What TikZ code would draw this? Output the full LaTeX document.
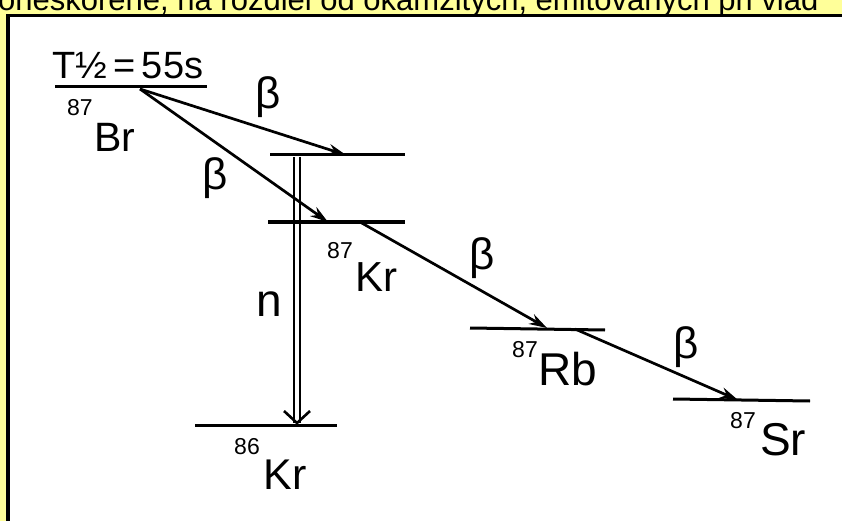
\documentclass[tikz,border=0pt]{standalone}
\usepackage{fontspec}
\setmainfont{Liberation Sans}
\usetikzlibrary{arrows.meta}
\definecolor{bgyellow}{RGB}{255,255,153}
\begin{document}
\begin{tikzpicture}[x=1pt,y=-1pt,
  level/.style={line width=3pt},
  decay/.style={line width=2.7pt,-{Stealth[length=18pt,width=11pt]}},
  elem/.style={inner sep=0pt,font=\fontsize{40}{40}\selectfont},
  massno/.style={inner sep=0pt,font=\fontsize{23}{23}\selectfont},
  greek/.style={inner sep=0pt,font=\fontsize{44}{44}\selectfont}]
\useasboundingbox (0,0) rectangle (842,521);
\fill[bgyellow] (0,0) rectangle (842,521);
\begin{scope}
\clip (0,0) rectangle (842,14);
\node[anchor=base west, inner sep=0pt, font=\fontsize{31}{31}\selectfont] (caption) at (-2,10.5) {oneskorené, na rozdiel od okamžitých, emitovaných pri vlád};
\end{scope}
\fill[white] (8,15.5) rectangle (842,521);
\draw[line width=3.5pt, line join=miter] (8,521) -- (8,15.5) -- (842,15.5);

% levels
\coordinate (BrL) at (55,87);   \coordinate (BrR) at (207,87);
\coordinate (KxL) at (270,155); \coordinate (KxR) at (405,155);
\coordinate (KrL) at (268,222); \coordinate (KrR) at (405,222);
\coordinate (K6L) at (195,425); \coordinate (K6R) at (337,425);
\coordinate (RbL) at (470,328); \coordinate (RbR) at (605,330);
\coordinate (SrL) at (673,399); \coordinate (SrR) at (810,401);
\foreach \a/\b in {BrL/BrR,KxL/KxR,KrL/KrR,K6L/K6R,RbL/RbR,SrL/SrR}
  \draw[level] (\a) -- (\b);

% decay points
\coordinate (src) at (140,89);
\coordinate (kx) at (346,155);
\coordinate (kr) at (328,222);
\coordinate (krs) at (360,222);
\coordinate (rb) at (547,328);
\coordinate (rbs) at (575,329);
\coordinate (sr) at (738,400);
\coordinate (ntop) at (297,157);
\coordinate (nbot) at (297,423);

\draw[decay] (src) -- (kx);
\draw[decay] (src) -- (kr);
\draw[decay] (krs) -- (rb);
\draw[decay] (rbs) -- (sr);

% neutron emission (double arrow)
\draw[line width=2.4pt] ([xshift=-2.8pt]ntop) -- ([xshift=-2.8pt]nbot);
\draw[line width=2.4pt] ([xshift=2.8pt]ntop) -- ([xshift=2.8pt]nbot);
\draw[line width=2.6pt, line join=miter] ([shift={(-13,-12)}]nbot) -- (nbot) -- ([shift={(13,-12)}]nbot);

% labels
\node[inner sep=0pt, anchor=base west, font=\fontsize{38}{38}\selectfont] (thalf) at (52,79) {T½\,=\,55s};
\node[massno] (m1) at (80,108) {87};
\node[elem, font=\fontsize{41}{41}\selectfont] (e1) at (115,137) {Br};
\node[massno] (m2) at (340,251) {87};
\node[elem, font=\fontsize{42}{42}\selectfont] (e2) at (376,277) {Kr};
\node[massno] (m3) at (247,447) {86};
\node[elem, font=\fontsize{43}{43}\selectfont] (e3) at (285,475) {Kr};
\node[massno] (m4) at (525,350) {87};
\node[elem, font=\fontsize{46}{46}\selectfont] (e4) at (568,369) {Rb};
\node[massno] (m5) at (743,421) {87};
\node[elem, font=\fontsize{46}{46}\selectfont] (e5) at (783,440) {Sr};

\node[greek] (b1) at (268,97) {β};
\node[greek] (b2) at (215,178) {β};
\node[greek] (b3) at (482,258) {β};
\node[greek] (b4) at (686,347) {β};
\node[greek, font=\fontsize{46}{46}\selectfont] (nlab) at (269,304) {n};
\end{tikzpicture}
\end{document}
